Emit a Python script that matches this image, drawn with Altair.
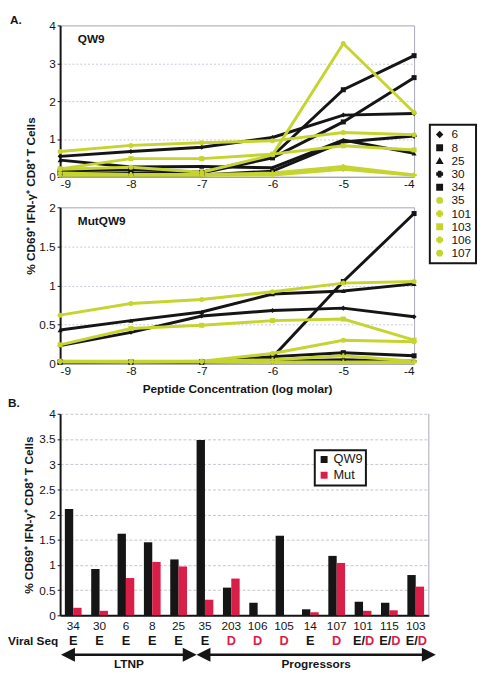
import altair as alt
import pandas as pd

BLACK = "#151515"
YELLOW = "#c6d430"
RED = "#d91e48"
FONT = "Liberation Sans"

CONC = [-9, -8, -7, -6, -5, -4]
IDS = ["6", "8", "25", "30", "34", "35", "101", "103", "106", "107"]
ID_COLORS = [BLACK] * 5 + [YELLOW] * 5
ID_SHAPES = ["diamond", "square", "triangle-up", "cross", "square",
             "circle", "cross", "square", "cross", "circle"]

# Panel A, QW9 peptide
QW9_6 = [0.54, 0.67, 0.78, 1.04, 1.63, 1.67]
QW9_8 = [0.10, 0.10, 0.10, 0.50, 1.45, 2.62]
QW9_25 = [0.44, 0.26, 0.27, 0.24, 0.97, 0.62]
QW9_30 = [0.05, 0.05, 0.05, 0.15, 0.92, 1.08]
QW9_34 = [0.15, 0.20, 0.12, 0.55, 2.30, 3.20]
QW9_35 = [0.20, 0.25, 0.12, 0.58, 3.52, 1.70]
QW9_101 = [0.10, 0.06, 0.06, 0.10, 0.27, 0.05]
QW9_103 = [0.21, 0.48, 0.48, 0.60, 0.82, 0.71]
QW9_106 = [0.04, 0.04, 0.04, 0.05, 0.20, 0.04]
QW9_107 = [0.67, 0.83, 0.90, 0.95, 1.17, 1.11]

# Panel A, MutQW9 peptide
MUT_6 = [0.23, 0.40, 0.61, 0.68, 0.71, 0.60]
MUT_8 = [0.02, 0.02, 0.02, 0.08, 1.05, 1.92]
MUT_25 = [0.43, 0.55, 0.66, 0.89, 0.93, 1.02]
MUT_30 = [0.02, 0.02, 0.02, 0.03, 0.05, 0.03]
MUT_34 = [0.02, 0.02, 0.02, 0.09, 0.14, 0.10]
MUT_35 = [0.03, 0.03, 0.03, 0.13, 0.30, 0.28]
MUT_101 = [0.03, 0.02, 0.03, 0.05, 0.10, 0.03]
MUT_103 = [0.24, 0.45, 0.49, 0.55, 0.57, 0.30]
MUT_106 = [0.02, 0.02, 0.02, 0.02, 0.02, 0.02]
MUT_107 = [0.62, 0.77, 0.82, 0.92, 1.03, 1.05]

QW9_SERIES = dict(zip(IDS, [QW9_6, QW9_8, QW9_25, QW9_30, QW9_34,
                            QW9_35, QW9_101, QW9_103, QW9_106, QW9_107]))
MUT_SERIES = dict(zip(IDS, [MUT_6, MUT_8, MUT_25, MUT_30, MUT_34,
                            MUT_35, MUT_101, MUT_103, MUT_106, MUT_107]))

# Panel B
PATIENTS = ["34", "30", "6", "8", "25", "35", "203", "106", "105", "14",
            "107", "101", "115", "103"]
BAR_QW9 = [2.11, 0.92, 1.62, 1.45, 1.11, 3.48, 0.55, 0.25, 1.58, 0.12,
           1.18, 0.27, 0.25, 0.80]
BAR_MUT = [0.15, 0.09, 0.74, 1.06, 0.97, 0.31, 0.73, 0.0, 0.0, 0.06,
           1.04, 0.09, 0.10, 0.57]
VIRAL_SEQ = ["E", "E", "E", "E", "E", "E", "D", "D", "D", "E", "D",
             "E/D", "E/D", "E/D"]
N_LTNP = 5

YTITLE = "% CD69\u207a IFN-\u03b3\u207a CD8\u207a T Cells"

W_TOP = 360
H_TOP = 154
H_MID = 159
W_BAR = 375
H_BAR = 205
GAP = 31          # gap between the two line panels
EXTRA = 20        # extra gap above the bar panel (inside its own group)


def line_panel(series, ymax, yticks, h, name, legend, yaxis_extra, xtitle):
    rows = []
    for i in IDS:
        for c, v in zip(CONC, series[i]):
            rows.append({"ID": i, "conc": c, "v": v})
    df = pd.DataFrame(rows)
    x = alt.X("conc:Q", scale=alt.Scale(domain=[-9, -4], nice=False),
              axis=alt.Axis(values=CONC, labelExpr="'' + datum.value",
                            title=xtitle, grid=False, ticks=False,
                            domainColor="#9a9aa8", domainWidth=1,
                            labelPadding=2, labelFontSize=12,
                            titleFontSize=12, titleFontWeight="bold",
                            titlePadding=7))
    y = alt.Y("v:Q", scale=alt.Scale(domain=[0, ymax], nice=False),
              axis=alt.Axis(values=yticks, labelExpr="'' + datum.value",
                            gridColor="#c9c9d9", gridDash=[2, 2],
                            domainColor=BLACK, domainWidth=2,
                            tickColor=BLACK, tickSize=3, labelPadding=2,
                            labelFontSize=12, **yaxis_extra))
    color = alt.Color("ID:N", scale=alt.Scale(domain=IDS, range=ID_COLORS),
                      legend=legend)
    shape = alt.Shape("ID:N", scale=alt.Scale(domain=IDS, range=ID_SHAPES),
                      legend=legend)
    lines = alt.Chart(df).mark_line(strokeWidth=3).encode(
        x=x, y=y, color=color)
    pts = alt.Chart(df).mark_point(filled=True, size=26, opacity=1).encode(
        x=x, y=y, color=color, shape=shape)
    label = alt.Chart(pd.DataFrame({"t": [name]})).mark_text(
        align="left", baseline="middle", fontSize=12, fontWeight="bold",
        color=BLACK).encode(text="t:N", x=alt.value(18), y=alt.value(14))
    return alt.layer(lines, pts, label).properties(width=W_TOP, height=h)


legend_a = alt.Legend(title=None, orient="none", legendX=376, legendY=101,
                      strokeColor=BLACK, padding=4,
                      labelFontSize=12, labelColor=BLACK, symbolSize=30,
                      rowPadding=1.4, labelOffset=6, fillColor="white")

top = line_panel(QW9_SERIES, 4, [0, 1, 2, 3, 4], H_TOP, "QW9", legend_a,
                 {"title": None}, None)
tag_a = alt.Chart(pd.DataFrame({"t": ["A."]})).mark_text(
    align="left", baseline="middle", fontSize=12, fontWeight="bold",
    color=BLACK).encode(text="t:N", x=alt.value(-51), y=alt.value(-5))
top = alt.layer(top, tag_a)

mid = line_panel(MUT_SERIES, 2, [0, 0.5, 1, 1.5, 2], H_MID, "MutQW9", None,
                 {"title": YTITLE, "titleY": -12, "titleX": -23,
                  "titleFontSize": 12, "titleFontWeight": "bold"},
                 "Peptide Concentration (log molar)")

# ---- Panel B ----
bar_rows = []
for p, q, m in zip(PATIENTS, BAR_QW9, BAR_MUT):
    bar_rows.append({"Patient": p, "Peptide": "QW9", "v": q})
    bar_rows.append({"Patient": p, "Peptide": "Mut", "v": m})
df_bar = pd.DataFrame(bar_rows)
df_seq = pd.DataFrame({"Patient": PATIENTS, "seq": VIRAL_SEQ})

HB = H_BAR + EXTRA
xb = alt.X("Patient:N", sort=PATIENTS,
           scale=alt.Scale(paddingInner=0.365, paddingOuter=0.18),
           axis=alt.Axis(title=None, labelAngle=0, ticks=False,
                         domainColor=BLACK, domainWidth=2, labelFontSize=12,
                         labelPadding=5, grid=False))
bars = alt.Chart(df_bar).mark_bar().encode(
    x=xb,
    xOffset=alt.XOffset("Peptide:N", sort=["QW9", "Mut"],
                        scale=alt.Scale(domain=["QW9", "Mut"])),
    y=alt.Y("v:Q", scale=alt.Scale(domain=[0, 4], nice=False, range=[HB, EXTRA]),
            axis=alt.Axis(values=[0, 0.5, 1, 1.5, 2, 2.5, 3, 3.5, 4],
                          labelExpr="'' + datum.value", title=YTITLE,
                          titleFontSize=12, titleFontWeight="bold",
                          titleX=-25, gridColor="#c4c4cc", gridDash=[3, 2],
                          domainColor=BLACK, domainWidth=2, tickColor=BLACK,
                          tickSize=3, labelPadding=2, labelFontSize=12)),
    color=alt.Color("Peptide:N",
                    scale=alt.Scale(domain=["QW9", "Mut"], range=[BLACK, RED]),
                    legend=alt.Legend(title=None, orient="none", legendX=259,
                                      legendY=37 + EXTRA, strokeColor=BLACK,
                                      padding=3,
                                      labelFontSize=13, labelColor=BLACK,
                                      symbolType="square", symbolSize=50,
                                      rowPadding=2, labelOffset=3,
                                      fillColor="white")),
)

one = pd.DataFrame({"a": [0]})
border = alt.Chart(one).mark_rule(color="#a6a6b6", strokeWidth=1).encode(
    x=alt.value(W_BAR), y=alt.value(EXTRA), y2=alt.value(HB))

SEQ_Y = 231 + EXTRA
seq_e = alt.Chart(df_seq).transform_filter("datum.seq == 'E'").mark_text(
    fontSize=13, fontWeight="bold", color=BLACK, baseline="middle").encode(
    x=alt.X("Patient:N", sort=PATIENTS), y=alt.value(SEQ_Y), text="seq:N")
seq_d = alt.Chart(df_seq).transform_filter("datum.seq == 'D'").mark_text(
    fontSize=13, fontWeight="bold", color=RED, baseline="middle").encode(
    x=alt.X("Patient:N", sort=PATIENTS), y=alt.value(SEQ_Y), text="seq:N")
seq_ed1 = alt.Chart(df_seq).transform_filter("datum.seq == 'E/D'").mark_text(
    fontSize=13, fontWeight="bold", color=BLACK, baseline="middle",
    align="right", dx=2).encode(
    x=alt.X("Patient:N", sort=PATIENTS), y=alt.value(SEQ_Y),
    text=alt.value("E/"))
seq_ed2 = alt.Chart(df_seq).transform_filter("datum.seq == 'E/D'").mark_text(
    fontSize=13, fontWeight="bold", color=RED, baseline="middle",
    align="left", dx=2).encode(
    x=alt.X("Patient:N", sort=PATIENTS), y=alt.value(SEQ_Y),
    text=alt.value("D"))

vs = alt.Chart(one).mark_text(fontSize=12, fontWeight="bold", color=BLACK,
                              align="left", baseline="middle").encode(
    x=alt.value(-53), y=alt.value(SEQ_Y), text=alt.value("Viral Seq"))
tag_b = alt.Chart(one).mark_text(fontSize=12, fontWeight="bold", color=BLACK,
                                 align="left", baseline="middle").encode(
    x=alt.value(-53), y=alt.value(EXTRA - 11), text=alt.value("B."))

band = W_BAR / (len(PATIENTS) - 0.365 + 0.36)
split = N_LTNP * band + 0.18 * band
AR_Y = 245 + EXTRA
HEAD = 7
LEFT_PATH = "M-1,0L1,-1L1,1Z"
RIGHT_PATH = "M1,0L-1,-1L-1,1Z"

arrow_parts = []
for x0, x1, label in [(1, split, "LTNP"), (split, W_BAR + 7, "Progressors")]:
    arrow_parts.append(alt.Chart(one).mark_rule(strokeWidth=2.5, color=BLACK).encode(
        x=alt.value(x0 + HEAD), x2=alt.value(x1 - HEAD), y=alt.value(AR_Y)))
    arrow_parts.append(alt.Chart(one).mark_point(
        shape=LEFT_PATH, size=200, filled=True, opacity=1, color=BLACK).encode(
        x=alt.value(x0 + HEAD), y=alt.value(AR_Y)))
    arrow_parts.append(alt.Chart(one).mark_point(
        shape=RIGHT_PATH, size=200, filled=True, opacity=1, color=BLACK).encode(
        x=alt.value(x1 - HEAD), y=alt.value(AR_Y)))
    arrow_parts.append(alt.Chart(one).mark_text(
        fontSize=12, fontWeight="bold", color=BLACK, baseline="middle").encode(
        x=alt.value((x0 + x1) / 2), y=alt.value(AR_Y + 10), text=alt.value(label)))

panel_b = alt.layer(bars, border, seq_e, seq_d, seq_ed1, seq_ed2, vs, tag_b,
                    *arrow_parts).properties(
    width=W_BAR, height=HB,
    view=alt.ViewBackground(strokeOpacity=0))

chart = alt.vconcat(top, mid, panel_b, spacing=GAP, bounds="flush").resolve_scale(
    color="independent", shape="independent", x="independent", y="independent"
).properties(padding=0).configure(font=FONT).configure_view(
    stroke="#a6a6b6", strokeWidth=1
).configure_axis(labelColor=BLACK, titleColor=BLACK, labelFont=FONT,
                 titleFont=FONT
).configure_legend(strokeWidth=2)

chart.save("out.html", embed_options={"renderer": "svg", "actions": False})
